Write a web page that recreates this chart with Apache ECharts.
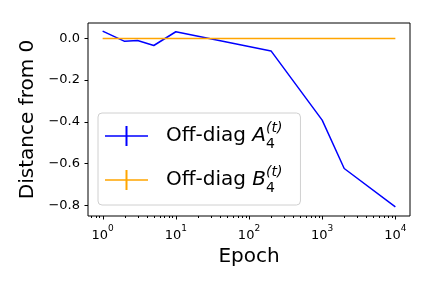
<!DOCTYPE html>
<html><head><meta charset="utf-8">
<script src="https://cdn.jsdelivr.net/npm/echarts@6/dist/echarts.min.js"></script>
<style>html,body{margin:0;padding:0;background:#fff}#c{width:432px;height:288px}</style>
</head><body><div id="c"></div>
<script>
const epochsA = [1, 2, 3, 5, 10, 200, 1000, 2000, 10000];
const valuesA = [0.035, -0.014, -0.010, -0.034, 0.032, -0.060, -0.392, -0.624, -0.808];
const epochsB = [1, 10000];
const valuesB = [0, 0];
const xMajorTicks = [1, 10, 100, 1000, 10000];
const xMinorTicks = [];
[0.1, 1, 10, 100, 1000, 10000].forEach(d => { for (let k = 2; k <= 9; k++) xMinorTicks.push(k * d); });
const yTicks = [0, -0.2, -0.4, -0.6, -0.8];
const xMin = Math.pow(10, -0.2), xMax = Math.pow(10, 4.2);
const yMin = -0.852, yMax = 0.074;
const FONT = 'DejaVu Sans';

const chart = echarts.init(document.getElementById('c'), null, {renderer: 'canvas'});

function xTickItem(params, api) {
  const cs = params.coordSys;
  const x = api.coord([api.value(0), yMin])[0];
  const len = api.value(1);
  if (x < cs.x - 0.5 || x > cs.x + cs.width + 0.5) return null;
  const px = Math.round(x) + 0.5;
  return {type: 'line', shape: {x1: px, y1: cs.y + cs.height, x2: px, y2: cs.y + cs.height + len},
    style: {stroke: '#000', lineWidth: 1}};
}
function yTickItem(params, api) {
  const cs = params.coordSys;
  const y = api.coord([1, api.value(0)])[1];
  const py = Math.round(y) + 0.5;
  return {type: 'line', shape: {x1: cs.x, y1: py, x2: cs.x - 3.5, y2: py},
    style: {stroke: '#000', lineWidth: 1}};
}

const option = {
  animation: false,
  backgroundColor: '#fff',
  textStyle: {fontFamily: FONT},
  grid: {left: 88, top: 23, right: 22, bottom: 72, show: true, borderColor: '#000', borderWidth: 1, backgroundColor: 'transparent'},
  xAxis: {
    type: 'log', logBase: 10, min: xMin, max: xMax,
    name: 'Epoch', nameLocation: 'middle', nameGap: 25,
    nameTextStyle: {fontSize: 20, color: '#000', fontFamily: FONT},
    axisLine: {show: false}, axisTick: {show: false}, splitLine: {show: false},
    axisLabel: {
      margin: 8, color: '#000', fontFamily: FONT,
      formatter: function (v) {
        const e = Math.round(Math.log10(v));
        if (Math.abs(Math.pow(10, e) - v) / v > 1e-6) return '';
        return '{b|10}{s|' + e + '}';
      },
      rich: {
        b: {fontSize: 13, color: '#000', fontFamily: FONT, verticalAlign: 'bottom', lineHeight: 18},
        s: {fontSize: 9, color: '#000', fontFamily: FONT, verticalAlign: 'top', lineHeight: 18}
      }
    }
  },
  yAxis: {
    type: 'value', min: yMin, max: yMax,
    name: 'Distance from 0', nameLocation: 'middle', nameGap: 46,
    nameTextStyle: {fontSize: 20, color: '#000', fontFamily: FONT},
    axisLine: {show: false}, axisTick: {show: false}, splitLine: {show: false},
    axisLabel: {
      margin: 8, fontSize: 13, color: '#000', fontFamily: FONT,
      formatter: function (v) {
        for (const t of yTicks) { if (Math.abs(t - v) < 1e-6) return (t < 0 ? '\u2212' : '') + Math.abs(t).toFixed(1); }
        return '';
      }
    }
  },
  legend: {
    orient: 'vertical', left: 98, top: 113,
    data: ['A', 'B'],
    padding: [8, 18, 10, 7], itemGap: 14,
    itemWidth: 43, itemHeight: 20,
    borderColor: '#d0d0d0', borderWidth: 1, borderRadius: 4,
    backgroundColor: 'rgba(255,255,255,0.8)',
    icon: 'path://M0,9.25h43v1.5h-43z M20.5,0h2v20h-2z',
    formatter: function (n) {
      return '{t|Off-diag }{i|' + n + '}{s|4}{p|(t)}';
    },
    textStyle: {
      padding: [0, 0, 0, 13],
      rich: {
        t: {fontSize: 20, color: '#000', fontFamily: FONT, lineHeight: 30},
        i: {fontSize: 20, color: '#000', fontFamily: FONT, fontStyle: 'italic', lineHeight: 30},
        s: {fontSize: 14, color: '#000', fontFamily: FONT, verticalAlign: 'bottom', lineHeight: 30, width: 0.01},
        p: {fontSize: 14, color: '#000', fontFamily: FONT, fontStyle: 'italic', verticalAlign: 'top', lineHeight: 30}
      }
    }
  },
  series: [
    {name: 'A', type: 'line', data: epochsA.map((e, i) => [e, valuesA[i]]),
      showSymbol: false, symbol: 'none', color: '#0000ff', lineStyle: {width: 1.5, color: '#0000ff'}},
    {name: 'B', type: 'line', data: epochsB.map((e, i) => [e, valuesB[i]]),
      showSymbol: false, symbol: 'none', color: '#ffa500', lineStyle: {width: 1.5, color: '#ffa500'}},
    {type: 'custom', silent: true, clip: false, renderItem: xTickItem,
      data: xMajorTicks.map(v => [v, 3.5]).concat(xMinorTicks.map(v => [v, 2]))},
    {type: 'custom', silent: true, clip: false, renderItem: yTickItem,
      data: yTicks.map(v => [v])}
  ]
};
chart.setOption(option);
</script></body></html>
